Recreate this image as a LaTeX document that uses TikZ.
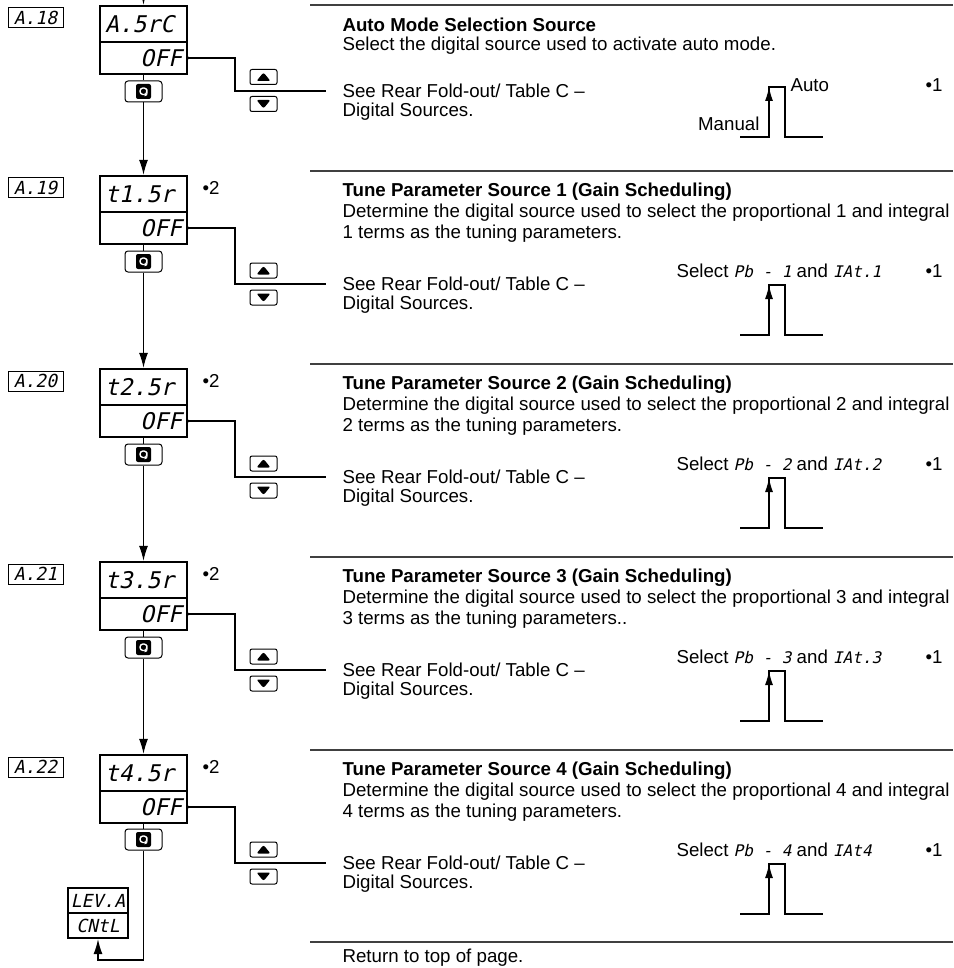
\documentclass[tikz,border=0pt]{standalone}
\usepackage{fontspec}
\setmainfont{Liberation Sans}
\newfontfamily\segfont[FakeSlant=0.22]{DejaVu Sans Mono}
\usetikzlibrary{arrows.meta}

\begin{document}
\begin{tikzpicture}[x=1pt, y=-1pt, line width=1.1pt,
    every node/.style={inner sep=0pt},
    txt/.style={anchor=west, font=\fontsize{18.7}{22}\selectfont},
    ttl/.style={anchor=west, font=\fontsize{18.7}{22}\selectfont\bfseries},
    lbl/.style={draw, line width=1pt, minimum width=55pt, minimum height=20pt, font=\segfont\fontsize{18}{18}\selectfont},
    dtop/.style={draw, line width=2.4pt, minimum width=87pt, minimum height=36pt, text width=77pt, align=left, font=\segfont\fontsize{23}{23}\selectfont},
    dbot/.style={dtop, minimum height=32pt, align=right},
    lev/.style={draw, line width=2.4pt, minimum width=60pt, minimum height=25pt, font=\segfont\fontsize{18}{18}\selectfont},
    keybox/.style={draw, line width=1pt, rounded corners=3pt, minimum width=37pt, minimum height=21pt,
        path picture={
            \fill[rounded corners=2pt] ([shift={(-7.5pt,-7.5pt)}]path picture bounding box.center) rectangle ([shift={(7.5pt,7.5pt)}]path picture bounding box.center);
            \draw[white, line width=1.4pt, -{Latex[length=3pt,width=4pt]}] ([shift={(-1pt,-3pt)}]path picture bounding box.center) -- ([shift={(-3.5pt,-3pt)}]path picture bounding box.center) -- ([shift={(-3.5pt,3.5pt)}]path picture bounding box.center) -- ([shift={(3.5pt,3.5pt)}]path picture bounding box.center) -- ([shift={(3.5pt,-1pt)}]path picture bounding box.center) -- ([shift={(1pt,-5pt)}]path picture bounding box.center);
        }},
    btnup/.style={draw, line width=1pt, rounded corners=2pt, minimum width=27pt, minimum height=15pt,
        path picture={\fill ([shift={(-7pt,-4pt)}]path picture bounding box.center) -- ([shift={(7pt,-4pt)}]path picture bounding box.center) -- ([shift={(0pt,4.5pt)}]path picture bounding box.center) -- cycle;}},
    btndn/.style={draw, line width=1pt, rounded corners=2pt, minimum width=27pt, minimum height=15pt,
        path picture={\fill ([shift={(-7pt,4pt)}]path picture bounding box.center) -- ([shift={(7pt,4pt)}]path picture bounding box.center) -- ([shift={(0pt,-4.5pt)}]path picture bounding box.center) -- cycle;}},
    arr/.style={-{Latex[length=15pt,width=9pt]}},
    parr/.style={-{Latex[length=14pt,width=8pt]}},
    rul/.style={line width=2pt, black!75}]
    \useasboundingbox (0,0) rectangle (953,968);

    % section A.18
    \coordinate (top) at (143.5,-10);
    \node[lbl] (lb1) at (35.5,18) {A.18};
    \node[dtop] (d1t) at (143.5,24) {A.5rC};
    \node[dbot] (d1b) at (143.5,58) {OFF};
    \node[keybox] (k1) at (143.5,91.5) {};
    \node[btnup] (u1) at (263.5,77) {};
    \node[btndn] (w1) at (263.5,104) {};
    \coordinate (b1) at (235,91);
    \coordinate (s1) at (326,91);
    \draw[arr] (top) -- (d1t.north);
    \draw (d1b.south) -- (k1.north);
    \fill (d1b.east) circle (1.5pt);
    \draw (d1b.east) -| (b1) -- (s1);
    \coordinate (r1a) at (310,5);
    \coordinate (r1b) at (953,5);
    \draw[rul] (r1a) -- (r1b);
    \node[ttl] (h1) at (342,25) {Auto Mode Selection Source};
    \node[txt] (e1) at (342,46) {Select the digital source used to activate auto mode.};
    \node[txt] (sr1) at (342,91) {See Rear Fold-out/ Table C –};
    \node[txt] (ds1) at (342,112) {Digital Sources.};
    \coordinate (p1a) at (740,137);
    \coordinate (p1b) at (769,137);
    \coordinate (p1c) at (769,87);
    \coordinate (p1d) at (785,87);
    \coordinate (p1e) at (785,137);
    \coordinate (p1f) at (823,137);
    \draw (p1a) -- (p1b) -- (p1c) -- (p1d) -- (p1e) -- (p1f);
    \draw[parr] (p1b) -- (p1c);
    \node[txt, anchor=east] (man) at (760,124) {Manual};
    \node[txt] (aut) at (790,85) {Auto};
    \node[txt] (n1) at (925,85) {•1};

    % section A.19
    \node[lbl] (lb2) at (35.5,188) {A.19};
    \node[dtop] (d2t) at (143.5,194) {t1.5r};
    \node[dbot] (d2b) at (143.5,228) {OFF};
    \node[txt] (m2) at (202,188) {•2};
    \node[keybox] (k2) at (143.5,261.5) {};
    \node[btnup] (u2) at (263.5,270.5) {};
    \node[btndn] (w2) at (263.5,297.5) {};
    \coordinate (b2) at (235,284);
    \coordinate (s2) at (326,284);
    \draw[arr] (k1.south) -- (d2t.north);
    \draw (d2b.south) -- (k2.north);
    \fill (d2b.east) circle (1.5pt);
    \draw (d2b.east) -| (b2) -- (s2);
    \coordinate (r2a) at (310,171);
    \coordinate (r2b) at (953,171);
    \draw[rul] (r2a) -- (r2b);
    \node[ttl] (h2) at (342,192) {Tune Parameter Source 1 (Gain Scheduling)};
    \node[txt] (e2) at (342,213) {Determine the digital source used to select the proportional 1 and integral};
    \node[txt] (f2) at (342,234) {1 terms as the tuning parameters.};
    \node[txt] (q2) at (676,271) {Select {\segfont\fontsize{16}{16}\selectfont Pb - 1} and {\segfont\fontsize{16}{16}\selectfont IAt.1}};
    \node[txt] (n2) at (925,271) {•1};
    \node[txt] (sr2) at (342,284) {See Rear Fold-out/ Table C –};
    \node[txt] (ds2) at (342,305) {Digital Sources.};
    \coordinate (p2a) at (740,335);
    \coordinate (p2b) at (769,335);
    \coordinate (p2c) at (769,285);
    \coordinate (p2d) at (785,285);
    \coordinate (p2e) at (785,335);
    \coordinate (p2f) at (823,335);
    \draw (p2a) -- (p2b) -- (p2c) -- (p2d) -- (p2e) -- (p2f);
    \draw[parr] (p2b) -- (p2c);

    % section A.20
    \node[lbl] (lb3) at (35.5,381) {A.20};
    \node[dtop] (d3t) at (143.5,387) {t2.5r};
    \node[dbot] (d3b) at (143.5,421) {OFF};
    \node[txt] (m3) at (202,381) {•2};
    \node[keybox] (k3) at (143.5,454.5) {};
    \node[btnup] (u3) at (263.5,463.5) {};
    \node[btndn] (w3) at (263.5,490.5) {};
    \coordinate (b3) at (235,477);
    \coordinate (s3) at (326,477);
    \draw[arr] (k2.south) -- (d3t.north);
    \draw (d3b.south) -- (k3.north);
    \fill (d3b.east) circle (1.5pt);
    \draw (d3b.east) -| (b3) -- (s3);
    \coordinate (r3a) at (310,364);
    \coordinate (r3b) at (953,364);
    \draw[rul] (r3a) -- (r3b);
    \node[ttl] (h3) at (342,385) {Tune Parameter Source 2 (Gain Scheduling)};
    \node[txt] (e3) at (342,406) {Determine the digital source used to select the proportional 2 and integral};
    \node[txt] (f3) at (342,427) {2 terms as the tuning parameters.};
    \node[txt] (q3) at (676,464) {Select {\segfont\fontsize{16}{16}\selectfont Pb - 2} and {\segfont\fontsize{16}{16}\selectfont IAt.2}};
    \node[txt] (n3) at (925,464) {•1};
    \node[txt] (sr3) at (342,477) {See Rear Fold-out/ Table C –};
    \node[txt] (ds3) at (342,498) {Digital Sources.};
    \coordinate (p3a) at (740,528);
    \coordinate (p3b) at (769,528);
    \coordinate (p3c) at (769,478);
    \coordinate (p3d) at (785,478);
    \coordinate (p3e) at (785,528);
    \coordinate (p3f) at (823,528);
    \draw (p3a) -- (p3b) -- (p3c) -- (p3d) -- (p3e) -- (p3f);
    \draw[parr] (p3b) -- (p3c);

    % section A.21
    \node[lbl] (lb4) at (35.5,574) {A.21};
    \node[dtop] (d4t) at (143.5,580) {t3.5r};
    \node[dbot] (d4b) at (143.5,614) {OFF};
    \node[txt] (m4) at (202,574) {•2};
    \node[keybox] (k4) at (143.5,647.5) {};
    \node[btnup] (u4) at (263.5,656.5) {};
    \node[btndn] (w4) at (263.5,683.5) {};
    \coordinate (b4) at (235,670);
    \coordinate (s4) at (326,670);
    \draw[arr] (k3.south) -- (d4t.north);
    \draw (d4b.south) -- (k4.north);
    \fill (d4b.east) circle (1.5pt);
    \draw (d4b.east) -| (b4) -- (s4);
    \coordinate (r4a) at (310,557);
    \coordinate (r4b) at (953,557);
    \draw[rul] (r4a) -- (r4b);
    \node[ttl] (h4) at (342,578) {Tune Parameter Source 3 (Gain Scheduling)};
    \node[txt] (e4) at (342,599) {Determine the digital source used to select the proportional 3 and integral};
    \node[txt] (f4) at (342,620) {3 terms as the tuning parameters..};
    \node[txt] (q4) at (676,657) {Select {\segfont\fontsize{16}{16}\selectfont Pb - 3} and {\segfont\fontsize{16}{16}\selectfont IAt.3}};
    \node[txt] (n4) at (925,657) {•1};
    \node[txt] (sr4) at (342,670) {See Rear Fold-out/ Table C –};
    \node[txt] (ds4) at (342,691) {Digital Sources.};
    \coordinate (p4a) at (740,721);
    \coordinate (p4b) at (769,721);
    \coordinate (p4c) at (769,671);
    \coordinate (p4d) at (785,671);
    \coordinate (p4e) at (785,721);
    \coordinate (p4f) at (823,721);
    \draw (p4a) -- (p4b) -- (p4c) -- (p4d) -- (p4e) -- (p4f);
    \draw[parr] (p4b) -- (p4c);

    % section A.22
    \node[lbl] (lb5) at (35.5,767) {A.22};
    \node[dtop] (d5t) at (143.5,773) {t4.5r};
    \node[dbot] (d5b) at (143.5,807) {OFF};
    \node[txt] (m5) at (202,767) {•2};
    \node[keybox] (k5) at (143.5,839.5) {};
    \node[btnup] (u5) at (263.5,849.5) {};
    \node[btndn] (w5) at (263.5,876.5) {};
    \coordinate (b5) at (235,863);
    \coordinate (s5) at (326,863);
    \draw[arr] (k4.south) -- (d5t.north);
    \draw (d5b.south) -- (k5.north);
    \fill (d5b.east) circle (1.5pt);
    \draw (d5b.east) -| (b5) -- (s5);
    \coordinate (r5a) at (310,750);
    \coordinate (r5b) at (953,750);
    \draw[rul] (r5a) -- (r5b);
    \node[ttl] (h5) at (342,771) {Tune Parameter Source 4 (Gain Scheduling)};
    \node[txt] (e5) at (342,792) {Determine the digital source used to select the proportional 4 and integral};
    \node[txt] (f5) at (342,813) {4 terms as the tuning parameters.};
    \node[txt] (q5) at (676,850) {Select {\segfont\fontsize{16}{16}\selectfont Pb - 4} and {\segfont\fontsize{16}{16}\selectfont IAt4}};
    \node[txt] (n5) at (925,850) {•1};
    \node[txt] (sr5) at (342,863) {See Rear Fold-out/ Table C –};
    \node[txt] (ds5) at (342,884) {Digital Sources.};
    \coordinate (p5a) at (740,914);
    \coordinate (p5b) at (769,914);
    \coordinate (p5c) at (769,864);
    \coordinate (p5d) at (785,864);
    \coordinate (p5e) at (785,914);
    \coordinate (p5f) at (823,914);
    \draw (p5a) -- (p5b) -- (p5c) -- (p5d) -- (p5e) -- (p5f);
    \draw[parr] (p5b) -- (p5c);

    % return to level menu
    \node[lev] (lv1) at (98,900.5) {LEV.A};
    \node[lev] (lv2) at (98,925.5) {CNtL};
    \coordinate (rt) at (98,960);
    \draw[arr] (k5.south) |- (rt) -- (lv2.south);
    \coordinate (r6a) at (310,942);
    \coordinate (r6b) at (953,942);
    \draw[rul] (r6a) -- (r6b);
    \node[txt] (back) at (342,958) {Return to top of page.};
\end{tikzpicture}
\end{document}
